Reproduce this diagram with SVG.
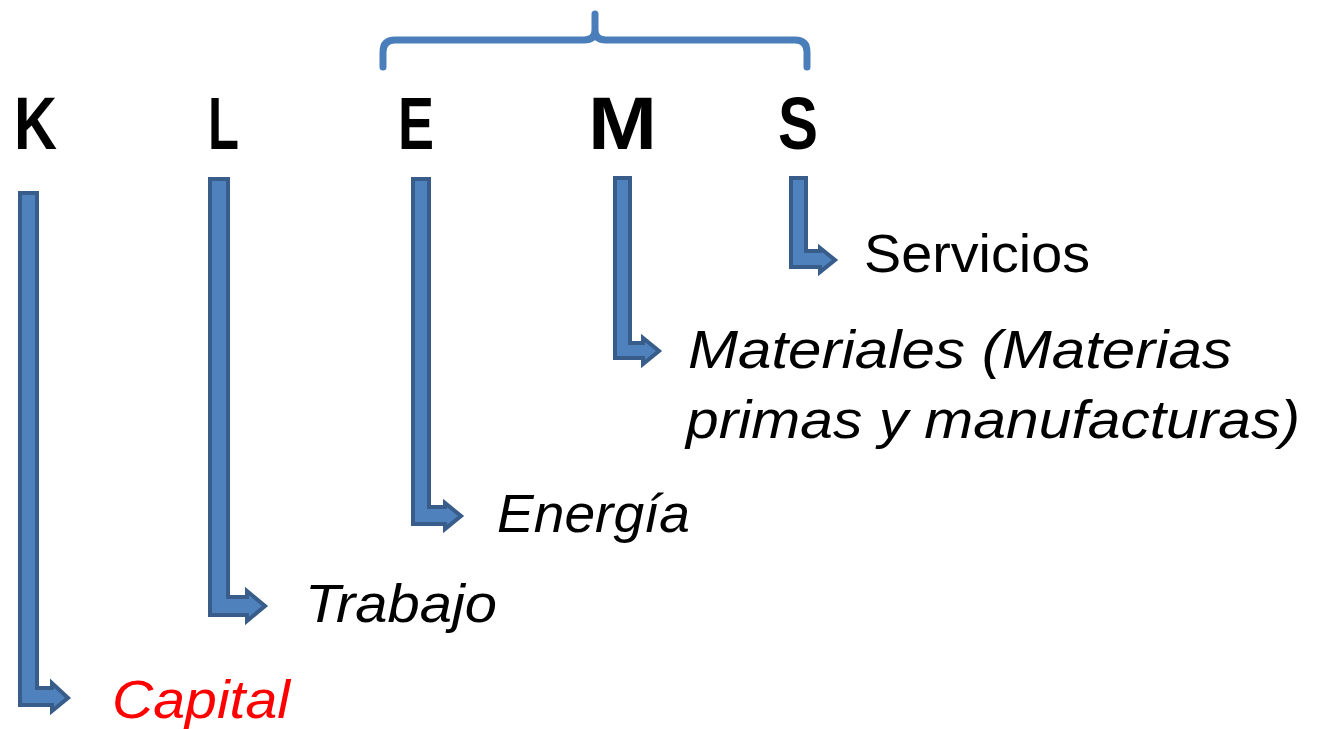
<svg xmlns="http://www.w3.org/2000/svg" width="1318" height="729" viewBox="0 0 1318 729">
<style>
.arrow{fill:#4f81bd;stroke:#385d8a;stroke-width:4;stroke-linejoin:miter}
.letter{font-family:"Liberation Sans",Arial,sans-serif;font-weight:bold;font-size:75px;fill:#000}
.lbl{font-family:"Liberation Sans",Arial,sans-serif;font-size:54px;fill:#000}
.it{font-style:italic}
</style>
<rect width="1318" height="729" fill="#fff"/>
<g id="brace">
<path d="M383,67 V52 Q383,40 395,40 H584 Q595,40 595,30 V14 M595,14 V30 Q595,40 606,40 H795 Q807,40 807,52 V67" fill="none" stroke="#4a7ebb" stroke-width="7" stroke-linecap="round" stroke-linejoin="round"/>
</g>
<g id="letters">
<text class="letter" x="14" y="149" textLength="43" lengthAdjust="spacingAndGlyphs">K</text>
<text class="letter" x="208" y="149" textLength="31" lengthAdjust="spacingAndGlyphs">L</text>
<text class="letter" x="398" y="149" textLength="36" lengthAdjust="spacingAndGlyphs">E</text>
<text class="letter" x="588" y="149" textLength="69" lengthAdjust="spacingAndGlyphs">M</text>
<text class="letter" x="778" y="149" textLength="40" lengthAdjust="spacingAndGlyphs">S</text>
</g>
<g id="connectors">
<path class="arrow" d="M20,193 H37 V688 H52 V683 L68,698 L52,711 V705 H20 Z"/>
<path class="arrow" d="M210,179 H228 V597 H247 V591 L265,606 L247,621 V615 H210 Z"/>
<path class="arrow" d="M413,179 H429 V507 H445 V503 L461,516 L445,529 V524 H413 Z"/>
<path class="arrow" d="M615,178 H630 V343 H643 V338 L659,351 L643,364 V358 H615 Z"/>
<path class="arrow" d="M791,178 H806 V251 H820 V248 L835,260 L820,272 V267 H791 Z"/>
</g>
<g id="servicios"><text class="lbl" x="864" y="272" textLength="226" lengthAdjust="spacingAndGlyphs">Servicios</text></g>
<g id="materiales">
<text class="lbl it" x="688" y="368" textLength="544" lengthAdjust="spacingAndGlyphs">Materiales (Materias</text>
<text class="lbl it" x="686" y="438" textLength="614" lengthAdjust="spacingAndGlyphs">primas y manufacturas)</text>
</g>
<g id="energia"><text class="lbl it" x="497" y="532" textLength="193" lengthAdjust="spacingAndGlyphs">Energía</text></g>
<g id="trabajo"><text class="lbl it" x="305" y="622" textLength="192" lengthAdjust="spacingAndGlyphs">Trabajo</text></g>
<g id="capital"><text class="lbl it" x="112" y="718" style="fill:#ff0000" textLength="178" lengthAdjust="spacingAndGlyphs">Capital</text></g>
</svg>
